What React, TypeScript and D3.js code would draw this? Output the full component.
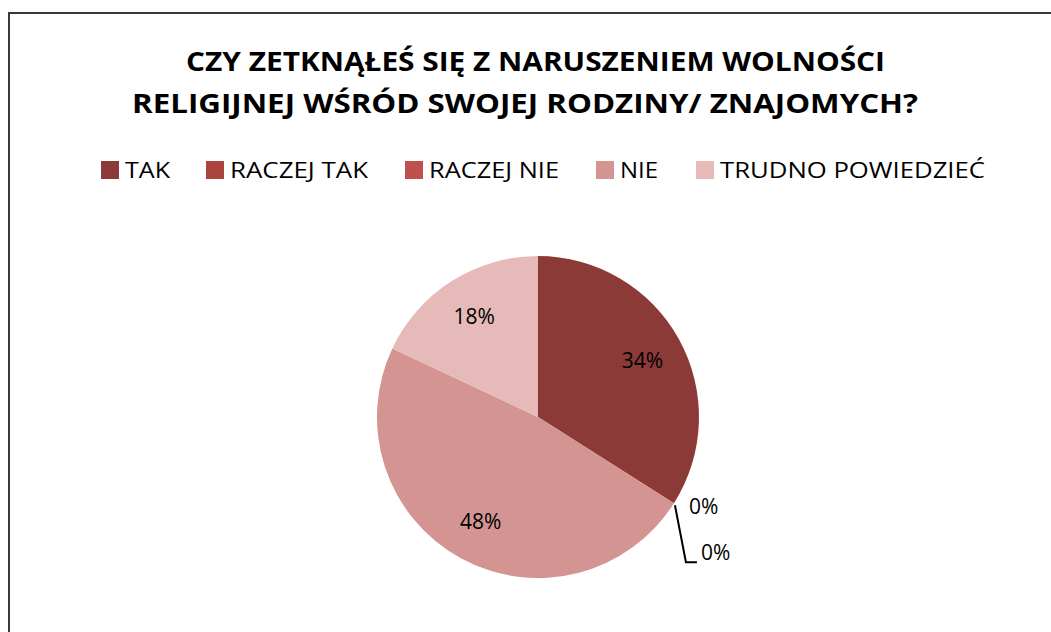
import React from "react";
import * as d3 from "d3";

const titleLines = ["CZY ZETKNĄŁEŚ SIĘ Z NARUSZENIEM WOLNOŚCI", "RELIGIJNEJ WŚRÓD SWOJEJ RODZINY/ ZNAJOMYCH?"];
const categories = ["TAK", "RACZEJ TAK", "RACZEJ NIE", "NIE", "TRUDNO POWIEDZIEĆ"];
const values = [34, 0, 0, 48, 18];
const colors = ["#8C3A38", "#A9443F", "#C0504D", "#D39492", "#E6BAB9"];

const W = 1051;
const H = 632;
const cx = 538;
const cy = 417;
const R = 161;
const FONT = "'Open Sans', 'DejaVu Sans', sans-serif";

// legend layout (swatch x positions and text widths)
const legendSwatchX = [101, 206, 405, 596, 696];
const legendTextW = [45, 138, 130, 38, 265];

export default function App() {
  const pie = d3.pie<number>().sort(null).value((d) => d)(values);
  const arc = d3.arc<d3.PieArcDatum<number>>().innerRadius(0).outerRadius(R);
  const labelArc = d3.arc<d3.PieArcDatum<number>>().innerRadius(R * 0.74).outerRadius(R * 0.74);

  const zeroSlices = pie.filter((p) => p.data === 0);
  const zeroAngle = zeroSlices.length ? zeroSlices[0].startAngle : 0;
  const edgeX = cx + R * Math.sin(zeroAngle);
  const edgeY = cy - R * Math.cos(zeroAngle);

  return (
    <div style={{ position: "fixed", left: 0, top: 0, width: W, height: H, background: "#fff" }}>
      <svg width={W} height={H} style={{ display: "block" }}>
        <rect x={0} y={0} width={W} height={H} fill="#fff" />
        <rect x={9} y={13} width={1200} height={800} fill="#fff" stroke="#3a3a3a" strokeWidth={2} />
        {titleLines.map((t, i) => (
          <text
            key={i}
            x={i === 0 ? 186 : 132}
            y={i === 0 ? 71 : 113}
            fontFamily={FONT}
            fontWeight={700}
            fontSize={26}
            fill="#000"
            textLength={i === 0 ? 699 : 786}
            lengthAdjust="spacingAndGlyphs"
          >
            {t}
          </text>
        ))}
        {categories.map((c, i) => (
          <g key={c}>
            <rect x={legendSwatchX[i]} y={161} width={18} height={18} fill={colors[i]} />
            <text
              x={legendSwatchX[i] + 24}
              y={178}
              fontFamily={FONT}
              fontSize={22}
              fill="#000"
              textLength={legendTextW[i]}
              lengthAdjust="spacingAndGlyphs"
            >
              {c}
            </text>
          </g>
        ))}
        <g transform={`translate(${cx},${cy})`}>
          {pie.map((p, i) =>
            p.data > 0 ? <path key={i} d={arc(p) || ""} fill={colors[i]} /> : null
          )}
          {pie.map((p, i) => {
            if (p.data === 0) return null;
            const [lx, ly] = labelArc.centroid(p);
            return (
              <text
                key={"l" + i}
                x={lx}
                y={ly}
                textAnchor="middle"
                dominantBaseline="central"
                fontFamily={FONT}
                fontSize={21}
                fill="#000"
              >
                {p.data}%
              </text>
            );
          })}
        </g>
        <text x={edgeX + 15} y={edgeY + 3} dominantBaseline="central" fontFamily={FONT} fontSize={21} fill="#000">
          {values[1]}%
        </text>
        <polyline
          points={`${edgeX + 1},${edgeY + 2} ${edgeX + 12},${edgeY + 59} ${edgeX + 23},${edgeY + 59}`}
          fill="none"
          stroke="#000"
          strokeWidth={2}
        />
        <text x={edgeX + 27} y={edgeY + 49} dominantBaseline="central" fontFamily={FONT} fontSize={21} fill="#000">
          {values[2]}%
        </text>
      </svg>
    </div>
  );
}
